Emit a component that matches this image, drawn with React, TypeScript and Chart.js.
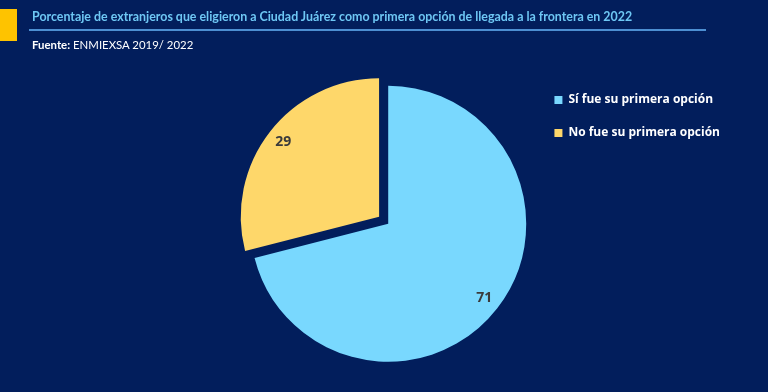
import React, { useEffect, useRef } from "react";
import { Chart, registerables } from "chart.js";

Chart.register(...registerables);

const categories = ["Sí fue su primera opción", "No fue su primera opción"];
const values = [71, 29];
const sliceColors = ["#79d8fe", "#fed76a"];
const sliceOffsets = [0, 46];
const titleText =
  "Porcentaje de extranjeros que eligieron a Ciudad Juárez como primera opción de llegada a la frontera en 2022";
const sourceLabel = "Fuente:";
const sourceText = "ENMIEXSA 2019/ 2022";

const BG = "#021e5c";

const sliceLabelPlugin = {
  id: "sliceLabels",
  afterDatasetsDraw(chart: any) {
    const ctx = chart.ctx;
    const meta = chart.getDatasetMeta(0);
    ctx.save();
    ctx.font = "bold 14px 'Open Sans', sans-serif";
    ctx.fillStyle = "#3b3b3b";
    ctx.textAlign = "center";
    ctx.textBaseline = "middle";
    meta.data.forEach((arc: any, i: number) => {
      const p = arc.getProps(["x", "y", "startAngle", "endAngle", "outerRadius"], true);
      const mid = (p.startAngle + p.endAngle) / 2;
      const shift = (arc.options.offset || 0) / 4;
      const cx = p.x + Math.cos(mid) * shift;
      const cy = p.y + Math.sin(mid) * shift;
      const r = p.outerRadius * 0.88;
      ctx.fillText(String(values[i]), cx + Math.cos(mid) * r, cy + Math.sin(mid) * r);
    });
    ctx.restore();
  },
};

export default function App() {
  const canvasRef = useRef<HTMLCanvasElement | null>(null);

  useEffect(() => {
    document.body.style.margin = "0";
    document.body.style.background = BG;
    const canvas = canvasRef.current;
    if (!canvas) return;
    const chart = new Chart(canvas, {
      type: "pie",
      data: {
        labels: categories,
        datasets: [
          {
            data: values,
            backgroundColor: sliceColors,
            borderWidth: 0,
            offset: sliceOffsets,
          },
        ],
      },
      options: {
        responsive: false,
        animation: false,
        radius: 138,
        layout: { padding: { top: 73, bottom: 17.5, left: 243, right: 38 } },
        plugins: {
          legend: {
            position: "right",
            align: "start",
            labels: {
              boxWidth: 8,
              boxHeight: 8,
              padding: 21,
              color: "#ffffff",
              font: { family: "'Open Sans', sans-serif", size: 12, weight: "bold" },
            },
          },
          tooltip: { enabled: false },
        },
      },
      plugins: [sliceLabelPlugin],
    });
    return () => chart.destroy();
  }, []);

  return (
    <div
      style={{
        position: "relative",
        width: 768,
        height: 392,
        background: BG,
        overflow: "hidden",
      }}
    >
      <canvas
        ref={canvasRef}
        width={768}
        height={392}
        style={{ position: "absolute", left: 0, top: 0 }}
      />
      <div
        style={{
          position: "absolute",
          left: 0,
          top: 9,
          width: 17,
          height: 32,
          background: "#fec300",
        }}
      />
      <div
        style={{
          position: "absolute",
          left: 32,
          top: 9,
          whiteSpace: "nowrap",
          font: "bold 12.4px Lato, sans-serif",
          color: "#6ec7f4",
          lineHeight: "16px",
        }}
      >
        {titleText}
      </div>
      <div
        style={{
          position: "absolute",
          left: 29,
          top: 29,
          width: 677,
          height: 1.5,
          background: "#4d8fd2",
        }}
      />
      <div
        style={{
          position: "absolute",
          left: 32,
          top: 37,
          whiteSpace: "nowrap",
          font: "11.4px Lato, sans-serif",
          color: "#ffffff",
          lineHeight: "16px",
        }}
      >
        <b>{sourceLabel}</b> {sourceText}
      </div>
    </div>
  );
}
